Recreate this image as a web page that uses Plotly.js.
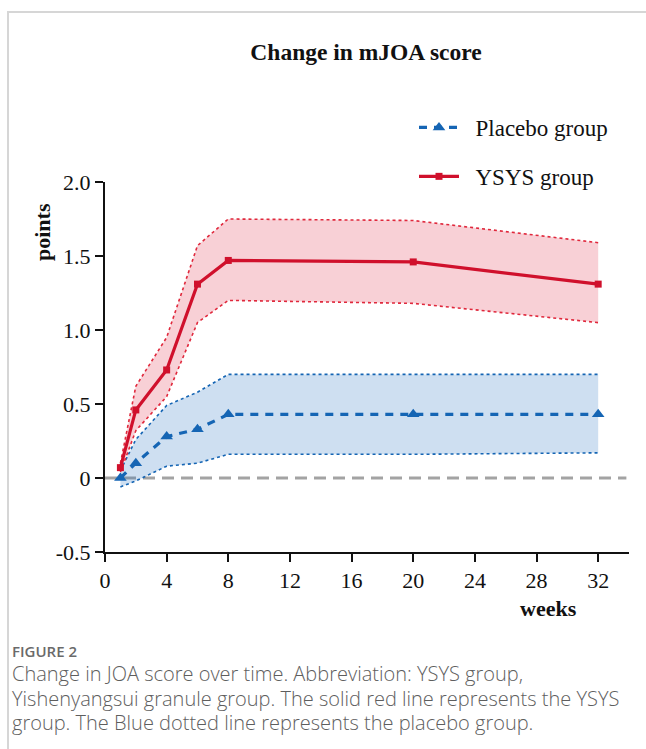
<!DOCTYPE html>
<html>
<head>
<meta charset="utf-8">
<script src="https://cdn.plot.ly/plotly-3.0.1.min.js"></script>
<style>
  html, body { margin: 0; padding: 0; background: #fff; }
  #wrap { position: relative; width: 646px; height: 749px; overflow: hidden; }
  #frame { position: absolute; left: 7px; top: 11px; width: 660px; height: 760px;
           border-top: 2px solid #d6d6d6; border-left: 2px solid #d6d6d6; }
  #chart { position: absolute; left: 0; top: 0; width: 646px; height: 620px; }
  #caption { position: absolute; left: 12px; top: 641px; width: 634px;
             font-family: "Open Sans", "Noto Sans", sans-serif; color: #5e5e5e; }
  #caption .fig { font-size: 15px; line-height: 21px; font-weight: 600; color: #6a6a6a; }
  #caption .txt { font-size: 20px; line-height: 24.5px; font-weight: 300; white-space: nowrap; }
</style>
</head>
<body>
<div id="wrap">
  <div id="frame"></div>
  <div id="chart"></div>
  <div id="caption">
    <div class="fig">FIGURE 2</div>
    <div class="txt">Change in JOA score over time. Abbreviation: YSYS group,<br>Yishenyangsui granule group. The solid red line represents the YSYS<br>group. The Blue dotted line represents the placebo group.</div>
  </div>
</div>
<script>
// ---- data ----
const weeks = [1, 2, 4, 6, 8, 20, 32];

const ysysMean  = [0.07, 0.46, 0.73, 1.31, 1.47, 1.46, 1.31];
const ysysUpper = [0.10, 0.62, 0.95, 1.57, 1.75, 1.74, 1.59];
const ysysLower = [0.04, 0.32, 0.55, 1.05, 1.20, 1.18, 1.05];

const placeboMean  = [0.00, 0.10, 0.28, 0.33, 0.43, 0.43, 0.43];
const placeboUpper = [0.05, 0.26, 0.49, 0.58, 0.70, 0.70, 0.70];
const placeboLower = [-0.06, -0.02, 0.08, 0.10, 0.16, 0.16, 0.17];

const xTicks = [0, 4, 8, 12, 16, 20, 24, 28, 32];
const yTicks = [-0.5, 0, 0.5, 1.0, 1.5, 2.0];
const yTickText = ["-0.5", "0", "0.5", "1.0", "1.5", "2.0"];

const RED = "#d0102c";
const BLUE = "#1565b4";
const SERIF = "'Liberation Serif', 'Times New Roman', serif";

const traces = [
  // placebo band
  { x: weeks, y: placeboLower, mode: "lines", showlegend: false, hoverinfo: "skip",
    line: { color: BLUE, width: 1.6, dash: "dot" } },
  { x: weeks, y: placeboUpper, mode: "lines", showlegend: false, hoverinfo: "skip",
    fill: "tonexty", fillcolor: "rgba(30,110,190,0.22)",
    line: { color: BLUE, width: 1.6, dash: "dot" } },
  // YSYS band
  { x: weeks, y: ysysLower, mode: "lines", showlegend: false, hoverinfo: "skip",
    line: { color: "#e0283c", width: 1.6, dash: "dot" } },
  { x: weeks, y: ysysUpper, mode: "lines", showlegend: false, hoverinfo: "skip",
    fill: "tonexty", fillcolor: "rgba(225,40,70,0.22)",
    line: { color: "#e0283c", width: 1.6, dash: "dot" } },
  // means
  { x: weeks, y: placeboMean, name: "&nbsp;&nbsp;Placebo group", legendgroup: "p",
    mode: "lines+markers", cliponaxis: false,
    line: { color: BLUE, width: 3.2, dash: "8px,7px" },
    marker: { symbol: "triangle-up", size: 11, color: BLUE } },
  { x: weeks, y: ysysMean, name: "&nbsp;&nbsp;YSYS group", legendgroup: "y",
    mode: "lines+markers", cliponaxis: false,
    line: { color: RED, width: 3.2 },
    marker: { symbol: "square", size: 7, color: RED } }
];

const layout = {
  width: 646, height: 620,
  margin: { l: 105, r: 17, t: 182, b: 68 },
  paper_bgcolor: "rgba(0,0,0,0)", plot_bgcolor: "rgba(0,0,0,0)",
  font: { family: SERIF, size: 22, color: "#111" },
  title: { text: "<b>Change in mJOA score</b>", font: { family: SERIF, size: 23.5, color: "#111" },
           x: 366 / 646, xanchor: "center", xref: "container",
           y: 1 - 52 / 620, yanchor: "middle", yref: "container" },
  xaxis: {
    range: [0, 34], showgrid: false, zeroline: false,
    showline: true, linecolor: "#111", linewidth: 2,
    ticks: "outside", ticklen: 8, tickwidth: 2, tickcolor: "#111",
    tickvals: xTicks, ticktext: xTicks.map(String),
    tickfont: { family: SERIF, size: 22, color: "#111" }
  },
  yaxis: {
    range: [-0.5, 2.0], showgrid: false, zeroline: false,
    showline: true, linecolor: "#111", linewidth: 2,
    ticks: "outside", ticklen: 8, tickwidth: 2, tickcolor: "#111",
    tickvals: yTicks, ticktext: yTickText,
    tickfont: { family: SERIF, size: 22, color: "#111" }
  },
  shapes: [
    { type: "line", xref: "paper", yref: "y", x0: 0, x1: 0.995, y0: 0, y1: 0, layer: "below",
      line: { color: "#a3a3a3", width: 3, dash: "12px,7px" } }
  ],
  legend: {
    x: (414 - 105) / 524, xanchor: "left", y: (552 - 106) / 370, yanchor: "top",
    bgcolor: "rgba(0,0,0,0)", font: { family: SERIF, size: 23, color: "#111" },
    tracegroupgap: 16, itemwidth: 40
  },
  annotations: [
    { text: "<b>points</b>", xref: "paper", yref: "paper", textangle: -90,
      x: (42 - 105) / 524, y: (552 - 232) / 370, xanchor: "center", yanchor: "middle",
      showarrow: false, font: { family: SERIF, size: 22, color: "#111" } },
    { text: "<b>weeks</b>", xref: "paper", yref: "paper",
      x: (548 - 105) / 524, y: (552 - 608) / 370, xanchor: "center", yanchor: "middle",
      showarrow: false, font: { family: SERIF, size: 22, color: "#111" } }
  ]
};

Plotly.newPlot("chart", traces, layout, { staticPlot: true, displayModeBar: false });
</script>
</body>
</html>
